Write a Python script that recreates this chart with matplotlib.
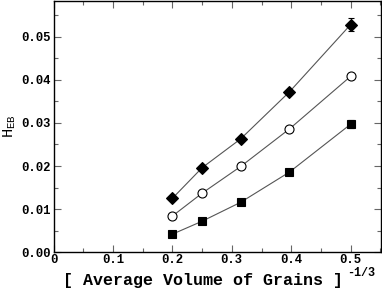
import numpy as np
import matplotlib
matplotlib.use("Agg")
import matplotlib.pyplot as plt
from matplotlib.ticker import MultipleLocator

# data
x = [0.2, 0.25, 0.315, 0.397, 0.5]
heb_diamond = [0.0125, 0.0196, 0.0263, 0.0372, 0.0528]
heb_circle = [0.0084, 0.0137, 0.0199, 0.0286, 0.0408]
heb_square = [0.0042, 0.0072, 0.0116, 0.0186, 0.0297]
err_diamond = [0.0003, 0.0003, 0.0003, 0.0004, 0.0015]
err_circle = [0.0002, 0.0002, 0.0002, 0.0003, 0.0005]
err_square = [0.0002, 0.0002, 0.0002, 0.0003, 0.0009]

plt.rcParams['font.family'] = ['Liberation Mono', 'DejaVu Sans Mono']
plt.rcParams['font.weight'] = 'bold'
plt.rcParams['mathtext.fontset'] = 'custom'
plt.rcParams['mathtext.rm'] = 'Liberation Mono:bold'
plt.rcParams['mathtext.it'] = 'Liberation Mono:bold'
plt.rcParams['mathtext.bf'] = 'Liberation Mono:bold'

fig = plt.figure(figsize=(3.82, 2.90), dpi=100)
ax = fig.add_axes([53.5 / 382, 1 - 252.3 / 290, (381 - 53.5) / 382, 251.5 / 290])

for yy, ee, m, fc, ms in [(heb_diamond, err_diamond, 'D', 'black', 6),
                          (heb_circle, err_circle, 'o', 'white', 6.5),
                          (heb_square, err_square, 's', 'black', 5.5)]:
    ax.plot(x, yy, color='#555555', lw=0.8, zorder=1)
    ax.errorbar(x, yy, yerr=ee, fmt='none', ecolor='black', elinewidth=0.8,
                capsize=2.2, capthick=0.8, zorder=2)
    ax.plot(x, yy, ls='none', marker=m, ms=ms,
            mfc=fc, mec='black', mew=0.8, zorder=3)

ax.set_xlim(0, 0.551)
ax.set_ylim(0, 0.0583)
ax.xaxis.set_major_locator(MultipleLocator(0.1))
ax.xaxis.set_minor_locator(MultipleLocator(0.05))
ax.yaxis.set_major_locator(MultipleLocator(0.01))
ax.yaxis.set_minor_locator(MultipleLocator(0.005))
ax.set_xticks([0, 0.1, 0.2, 0.3, 0.4, 0.5])
ax.set_xticklabels(['0', '0.1', '0.2', '0.3', '0.4', '0.5'])
ax.set_yticklabels(['%.2f' % v for v in ax.get_yticks()])
ax.tick_params(which='both', direction='in', top=True, right=True,
               labelsize=8.8, width=0.8, color='#666666')
ax.tick_params(which='major', length=5, pad=2)
ax.tick_params(axis='x', which='major', pad=1)
ax.tick_params(which='minor', length=3)
for sp in ax.spines.values():
    sp.set_linewidth(1.0)

ax.set_ylabel(r'H$_{\mathregular{EB}}$', fontsize=11, labelpad=2)
fig.text(63 / 382, 1 - 285 / 290, '[ Average Volume of Grains ]',
         fontsize=12, fontweight='bold', va='baseline', ha='left')
fig.text(347 / 382, 1 - 275.5 / 290, '-1/3', fontsize=8.5,
         fontweight='bold', va='baseline', ha='left')

fig.savefig('out.png', dpi=100)
